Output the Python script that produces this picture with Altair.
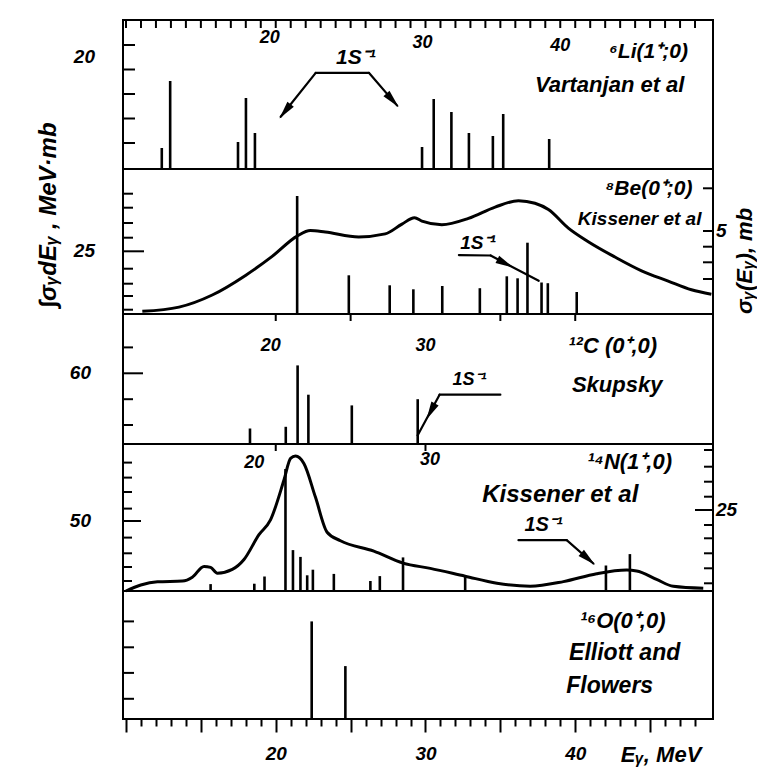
import altair as alt
import pandas as pd

FONT = "Liberation Sans"
E_DOMAIN = [9.8, 49.2]
W = 590
H_LI, H_BE, H_C, H_N, H_O = 149, 145, 130, 147, 128
ARROW = "M0,-1 L0.45,1 L-0.45,1 Z"

# ---------------- 6Li (Vartanjan et al) ----------------
li_E = [12.39, 12.95, 17.48, 18.01, 18.61, 29.77, 30.55, 31.73, 32.9, 34.5, 35.19, 38.26]
li_h = [21, 88, 27, 71, 36, 22, 70, 57, 36, 33, 55, 30]
li_left_ticks = [26, 50.5, 75, 99.5, 124]
li_top_ticks = list(range(10, 49))
li_text = [("20", 19.6, 131, 18), ("30", 29.8, 126, 18), ("40", 39.0, 123, 18),
           ("⁶Li(1⁺;0)", 44.9, 117, 21), ("Vartanjan et al", 42.3, 84, 22),
           ("1S⁻¹", 25.35, 110.6, 21)]
li_seg = [(20.33, 52.2, 22.67, 96.1), (22.67, 96.1, 26.22, 96.2), (26.22, 96.2, 28.11, 63.4)]
li_heads = [(20.62, 57.7, 218), (27.8, 68.7, 138)]

# ---------------- 8Be (Kissener et al) ----------------
be_E = [21.43, 24.88, 27.61, 29.19, 31.12, 33.63, 35.43, 36.15, 36.81, 37.75, 38.17, 40.1]
be_h = [118, 38.7, 28.7, 24.7, 28, 25.8, 37.7, 35.7, 71.3, 31.5, 30.8, 22]
be_curve_E = [11.09, 13.54, 15.76, 17.98, 19.76, 21.43, 22.31, 23.31, 25.54, 27.31, 28.43, 29.27, 29.76,
              31.09, 32.87, 34.65, 36.21, 37.31, 38.21, 39.54, 40.87, 42.65, 44.43, 46.21, 47.76, 49.09]
be_curve_h = [2.7, 6.9, 19, 38.6, 57.6, 77.9, 83.4, 81.9, 77.1, 80.1, 89.9, 96.3, 92.9,
              89.3, 95.6, 106.9, 113.3, 110.7, 104.5, 85.9, 72.3, 57, 43.2, 32.9, 24.2, 19.7]
be_left_ticks = [4.3, 18, 30.3, 45.3, 76.3, 91, 106.3, 120.3]
be_left_long = [62.7]
be_right_ticks = [35, 51.7, 67.3, 83, 125.7]
be_text = [("⁸Be(0⁺;0)", 44.93, 124.8, 21), ("Kissener et al", 44.3, 95, 19), ("1S⁻¹", 33.51, 71.3, 19)]
be_seg = [(32.23, 58.9, 34.35, 58.5), (34.35, 58.5, 37.56, 33.2)]
be_heads = [(35.34, 50.5, 117)]

# ---------------- 12C (Skupsky) ----------------
c_E = [18.28, 20.67, 21.46, 22.18, 25.08, 29.48]
c_h = [15.5, 17.2, 78.6, 49.3, 38.6, 44.8]
c_left_ticks = [19, 44.8, 96.6]
c_left_long = [70.7]
c_top_ticks = [20, 25, 35, 40]
c_text = [("20", 19.67, 98, 18), ("30", 30.0, 98, 18), ("¹²C (0⁺,0)", 42.5, 98, 22),
          ("Skupsky", 42.8, 58.6, 22), ("1S⁻¹", 32.94, 63.8, 18)]
c_seg = [(30.94, 49.3, 35.0, 49.3), (30.94, 49.3, 29.47, 8.6)]
c_heads = [(30.35, 32.5, 208)]

# ---------------- 14N (Kissener et al) ----------------
n_E = [15.65, 18.57, 19.25, 20.65, 21.15, 21.65, 22.1, 22.48, 23.88, 26.32, 26.95, 28.5, 32.65, 42.05, 43.65]
n_h = [6.9, 7.3, 14.5, 122, 40.9, 34.1, 15.7, 21.3, 17.1, 10, 14.9, 33.6, 15.5, 25.5, 36.9]
n_curve_E = [9.99, 10.99, 12.1, 13.77, 14.43, 15.21, 15.65, 16.1, 17.1, 17.88, 18.88, 19.65, 20.55, 20.99,
             21.32, 21.88, 22.65, 23.43, 24.32, 26.55, 28.5, 30.32, 32.65, 34.77, 36.99, 39.21, 41.43,
             43.43, 44.1, 45.43, 46.55, 48.55]
n_curve_h = [0, 6, 9.2, 9.9, 13.8, 24.6, 23.6, 17.8, 21.6, 31.5, 56.3, 71.1, 111, 132.6,
             134.9, 127.5, 93.9, 58.8, 50.3, 39.9, 27.9, 22.6, 14.8, 7.8, 4.8, 9.4, 17.3,
             20.9, 20.1, 11.6, 4.7, 2.7]
n_left_ticks = [10, 24, 37.7, 53.4, 82.4, 99, 113.4, 128.4]
n_left_long = [70]
n_right_ticks = [7.7, 22.7, 37.7, 52.7, 66, 94.3, 109.3, 124.3, 141]
n_right_long = [81]
n_top_ticks = [20, 30]
n_text = [("20", 18.57, 128, 18), ("30", 30.3, 131, 18), ("¹⁴N(1⁺,0)", 43.63, 128.8, 22),
          ("Kissener et al", 39.0, 95.8, 24), ("1S⁻¹", 37.88, 66, 20)]
n_seg = [(36.21, 50.8, 39.43, 50.8), (39.43, 50.8, 41.21, 27.5)]
n_heads = [(40.86, 32.1, 131)]

# ---------------- 16O (Elliott and Flowers) ----------------
o_E = [22.4, 24.65]
o_h = [97.6, 52.9]
o_left_ticks = [20.2, 46.1, 71.7, 97.6]
o_text = [("¹⁶O(0⁺,0)", 43.17, 98, 22), ("Elliott and", 43.3, 66, 23), ("Flowers", 42.3, 33, 23)]

bottom_ticks = list(range(10, 49))

TXT = dict(font=FONT, fontStyle="italic", fontWeight="bold", color="black")


def X(field="E", axis=None):
    return alt.X(f"{field}:Q", scale=alt.Scale(domain=E_DOMAIN, nice=False, zero=False), axis=axis)


def Y(field, H):
    return alt.Y(f"{field}:Q", scale=alt.Scale(domain=[0, H], nice=False, zero=False), axis=None)


def bars(E, h, H, axis=None):
    df = pd.DataFrame({"E": E, "h": h})
    return alt.Chart(df).mark_rule(color="black", strokeWidth=2.6).encode(
        x=X("E", axis), y=Y("h", H), y2=alt.datum(0))


def curve(E, h, H):
    df = pd.DataFrame({"E": E, "h": h})
    return alt.Chart(df).mark_line(color="black", strokeWidth=3, interpolate="monotone").encode(
        x=X("E"), y=Y("h", H), order="E:Q")


def yticks(vals, H, side="left", length=10):
    df = pd.DataFrame({"t": vals})
    if side == "left":
        xe, x2e = alt.value(0), alt.value(length)
    else:
        xe, x2e = alt.value(W - length), alt.value(W)
    return alt.Chart(df).mark_rule(color="black", strokeWidth=2).encode(x=xe, x2=x2e, y=Y("t", H))


def xticks_top(vals, length=8):
    df = pd.DataFrame({"t": vals})
    return alt.Chart(df).mark_rule(color="black", strokeWidth=2).encode(
        x=X("t"), y=alt.value(0), y2=alt.value(length))


def texts(rows, H, axis=None):
    df = pd.DataFrame(rows, columns=["s", "E", "h", "fs"])
    return alt.Chart(df).mark_text(align="center", baseline="middle", **TXT).encode(
        x=X("E", axis), y=Y("h", H), text="s:N", size=alt.Size("fs:Q", scale=None, legend=None))


def segments(rows, H):
    df = pd.DataFrame(rows, columns=["x1", "y1", "x2", "y2"])
    return alt.Chart(df).mark_rule(color="black", strokeWidth=2.2, strokeCap="round").encode(
        x=X("x1"), x2="x2:Q", y=Y("y1", H), y2="y2:Q")


def heads(rows, H):
    df = pd.DataFrame(rows, columns=["E", "h", "a"])
    return alt.Chart(df).mark_point(shape=ARROW, filled=True, color="black", size=330, opacity=1).encode(
        x=X("E"), y=Y("h", H), angle=alt.Angle("a:Q", scale=None))


def side_label(s, h, H, side="left", fs=19, off=26):
    df = pd.DataFrame({"s": [s], "h": [h]})
    if side == "left":
        mk = alt.Chart(df).mark_text(align="right", baseline="middle", fontSize=fs, **TXT)
        xe = alt.value(-off)
    else:
        mk = alt.Chart(df).mark_text(align="left", baseline="middle", fontSize=fs, **TXT)
        xe = alt.value(W + 3)
    return mk.encode(x=xe, y=Y("h", H), text="s:N")


def free_text(s, x, y, fs, angle=0):
    df = pd.DataFrame({"s": [s]})
    kw = dict(TXT)
    if angle:
        kw["angle"] = angle
    return alt.Chart(df).mark_text(align="center", baseline="middle", fontSize=fs, **kw).encode(
        x=alt.value(x), y=alt.value(y), text="s:N")


anchor = alt.Chart(pd.DataFrame({"a": [0]})).mark_rule(strokeOpacity=0, color="white").encode(
    x=alt.value(-122), x2=alt.value(-121), y=alt.value(-19), y2=alt.value(-18))

li = alt.layer(
    anchor,
    bars(li_E, li_h, H_LI),
    yticks(li_left_ticks, H_LI, length=12),
    xticks_top(li_top_ticks),
    texts(li_text, H_LI),
    segments(li_seg, H_LI),
    heads(li_heads, H_LI),
    side_label("20", 112, H_LI, off=28),
).properties(width=W, height=H_LI)

be = alt.layer(
    bars(be_E, be_h, H_BE),
    curve(be_curve_E, be_curve_h, H_BE),
    yticks(be_left_ticks, H_BE, length=10),
    yticks(be_left_long, H_BE, length=21),
    yticks(be_right_ticks, H_BE, side="right", length=10),
    texts(be_text, H_BE),
    segments(be_seg, H_BE),
    heads(be_heads, H_BE),
    side_label("25", 62.7, H_BE, off=28),
    side_label("5", 83, H_BE, side="right"),
    free_text("∫σᵧdEᵧ , MeV·mb", -74, 46, 24, angle=270),
    free_text("σᵧ(Eᵧ), mb", 622, 92, 22, angle=270),
).properties(width=W, height=H_BE)

c = alt.layer(
    bars(c_E, c_h, H_C),
    yticks(c_left_ticks, H_C, length=10),
    yticks(c_left_long, H_C, length=20),
    xticks_top(c_top_ticks, length=7),
    texts(c_text, H_C),
    segments(c_seg, H_C),
    heads(c_heads, H_C),
    side_label("60", 70.7, H_C, off=32),
).properties(width=W, height=H_C)

n = alt.layer(
    bars(n_E, n_h, H_N),
    curve(n_curve_E, n_curve_h, H_N),
    yticks(n_left_ticks, H_N, length=9),
    yticks(n_left_long, H_N, length=18),
    yticks(n_right_ticks, H_N, side="right", length=9),
    yticks(n_right_long, H_N, side="right", length=18),
    xticks_top(n_top_ticks, length=7),
    texts(n_text, H_N),
    segments(n_seg, H_N),
    heads(n_heads, H_N),
    side_label("50", 70, H_N, off=32),
    side_label("25", 81, H_N, side="right"),
).properties(width=W, height=H_N)

x_axis = alt.Axis(
    values=bottom_ticks,
    tickSize={"condition": {"test": "datum.value % 5 === 0", "value": 13}, "value": 7},
    tickWidth=2, tickColor="black", domain=False, grid=False,
    labelExpr="(datum.value % 10 === 0 && datum.value >= 20) ? datum.label : ''",
    labelFont=FONT, labelFontSize=19, labelFontStyle="italic", labelFontWeight="bold",
    labelColor="black", labelPadding=12, labelOverlap=False, labelFlush=False, title=None)

o = alt.layer(
    bars(o_E, o_h, H_O, axis=x_axis),
    yticks(o_left_ticks, H_O, length=11),
    texts(o_text, H_O, axis=x_axis),
    free_text("Eᵧ, MeV", 538, 164, 22),
).properties(width=W, height=H_O)

chart = alt.vconcat(li, be, c, n, o, spacing=0, bounds="flush").properties(
    padding=0, background="white"
).configure_view(stroke="black", strokeWidth=2)

chart.save("out.html", embed_options={"renderer": "svg", "actions": False})
